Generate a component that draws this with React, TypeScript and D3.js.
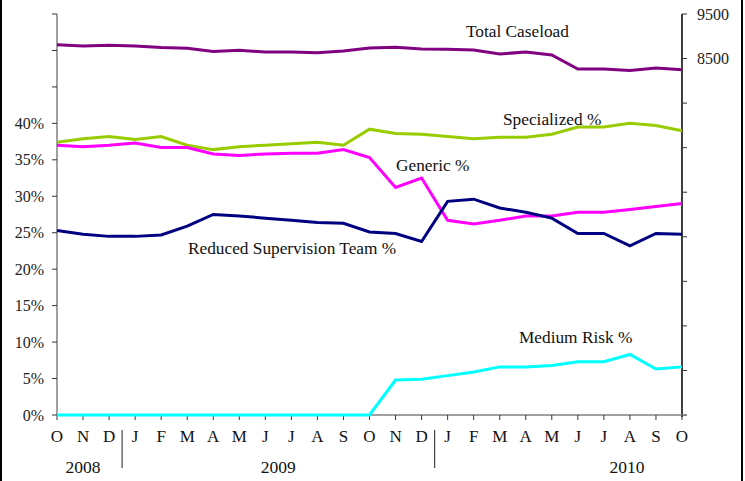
import React from 'react';
import * as d3 from 'd3';

const width = 745;
const height = 481;
const margin = {top: 14, right: 60, bottom: 66, left: 57};

const months = ['O', 'N', 'D', 'J', 'F', 'M', 'A', 'M', 'J', 'J', 'A', 'S', 'O', 'N', 'D',
    'J', 'F', 'M', 'A', 'M', 'J', 'J', 'A', 'S', 'O'];
const years = [{label: '2008', from: 0, to: 2}, {label: '2009', from: 3, to: 14}, {label: '2010', from: 15, to: 24}];

const totalCaseload = [8811, 8782, 8798, 8782, 8748, 8730, 8658, 8685, 8647, 8647, 8632, 8670, 8737,
    8753, 8715, 8708, 8692, 8602, 8647, 8580, 8266, 8266, 8232, 8288, 8250];
const specialized = [37.4, 37.9, 38.2, 37.8, 38.2, 37.0, 36.4, 36.8, 37.0, 37.2, 37.4, 37.0, 39.2,
    38.6, 38.5, 38.2, 37.9, 38.1, 38.1, 38.5, 39.5, 39.5, 40.0, 39.7, 39.0];
const generic = [37.0, 36.8, 37.0, 37.3, 36.7, 36.7, 35.8, 35.6, 35.8, 35.9, 35.9, 36.4, 35.3,
    31.2, 32.5, 26.7, 26.2, 26.7, 27.3, 27.3, 27.8, 27.8, 28.2, 28.6, 29.0];
const reduced = [25.3, 24.8, 24.5, 24.5, 24.7, 25.9, 27.5, 27.3, 27.0, 26.7, 26.4, 26.3, 25.1,
    24.9, 23.8, 29.3, 29.6, 28.4, 27.8, 27.0, 24.9, 24.9, 23.2, 24.9, 24.8];
const mediumRisk = [0, 0, 0, 0, 0, 0, 0, 0, 0, 0, 0, 0, 0,
    4.8, 4.9, 5.4, 5.9, 6.6, 6.6, 6.8, 7.3, 7.3, 8.3, 6.3, 6.6];

const pctTicks = [0, 5, 10, 15, 20, 25, 30, 35, 40, 45, 50, 55];
const pctLabels = [0, 5, 10, 15, 20, 25, 30, 35, 40];
const countTicks = [500, 1500, 2500, 3500, 4500, 5500, 6500, 7500, 8500, 9500];
const countLabels = [8500, 9500];

const font = '"Liberation Serif", "Times New Roman", serif';

export default function App() {
    const x = d3.scaleLinear().domain([0, months.length - 1]).range([margin.left, width - margin.right - 3]);
    const yPct = d3.scaleLinear().domain([0, 55]).range([height - margin.bottom, margin.top]);
    const yCount = d3.scaleLinear().domain([500, 9500]).range([height - margin.bottom, margin.top]);

    const pctLine = d3.line<number>().x((d, i) => x(i)).y(d => yPct(d));
    const countLine = d3.line<number>().x((d, i) => x(i)).y(d => yCount(d));

    const x0 = x(0);
    const x1 = x(months.length - 1);
    const yBase = yPct(0);

    const series = [
        {data: specialized, color: '#99cc00'},
        {data: generic, color: '#ff00ff'},
        {data: reduced, color: '#000080'},
        {data: mediumRisk, color: '#00ffff'},
    ];

    return (
        <div style={{position: 'absolute', left: 0, top: 0}}>
            <svg width={width} height={height} style={{display: 'block', fontFamily: font}}>
                <rect x={0} y={0} width={width} height={height} fill='#fff'/>
                <line x1={1} x2={1} y1={0} y2={height} stroke='#000' strokeWidth={2}/>
                <line x1={742} x2={742} y1={0} y2={height} stroke='#000' strokeWidth={2}/>

                {/* left axis */}
                <line x1={x0} x2={x0} y1={yPct(55)} y2={yBase} stroke='#808080' strokeWidth={1.5}/>
                {pctTicks.map(t => (
                    <line key={t} x1={x0 - 5} x2={x0} y1={yPct(t)} y2={yPct(t)} stroke='#333' strokeWidth={1}/>
                ))}
                {pctLabels.map(t => (
                    <text key={t} x={44} y={yPct(t)} dy='0.35em' textAnchor='end' fontSize={16} fill='#222'>{t}%</text>
                ))}

                {/* right axis */}
                <line x1={x1} x2={x1} y1={yCount(9500)} y2={yBase + 2} stroke='#000' strokeWidth={1.5}/>
                {countTicks.map(t => (
                    <line key={t} x1={x1} x2={x1 + 5} y1={yCount(t)} y2={yCount(t)} stroke='#333' strokeWidth={1}/>
                ))}
                {countLabels.map(t => (
                    <text key={t} x={697} y={yCount(t)} dy='0.35em' fontSize={16} fill='#222'>{t}</text>
                ))}

                {/* x axis */}
                <line x1={x0} x2={x1 + 5} y1={yBase} y2={yBase} stroke='#808080' strokeWidth={1.5}/>
                {months.map((m, i) => (
                    <g key={i}>
                        <line x1={x(i)} x2={x(i)} y1={yBase} y2={yBase + 5} stroke='#333' strokeWidth={1}/>
                        <text x={x(i)} y={442} textAnchor='middle' fontSize={17} fill='#111'>{m}</text>
                    </g>
                ))}
                {years.map(yr => (
                    <text key={yr.label} x={yr.label === '2010' ? 627 : (x(yr.from) + x(yr.to)) / 2} y={473}
                          textAnchor='middle' fontSize={17.5} fill='#111'>{yr.label}</text>
                ))}
                {[2.5, 14.5].map(p => (
                    <line key={p} x1={x(p)} x2={x(p)} y1={430} y2={468} stroke='#444' strokeWidth={1.2}/>
                ))}

                {/* series */}
                <path d={countLine(totalCaseload) || ''} fill='none' stroke='#800080' strokeWidth={3}/>
                {series.map((s, i) => (
                    <path key={i} d={pctLine(s.data) || ''} fill='none' stroke={s.color} strokeWidth={3}/>
                ))}

                <text x={466} y={37} fontSize={17.3} fill='#111'>Total Caseload</text>
                <text x={503} y={125} fontSize={17.3} fill='#111'>Specialized %</text>
                <text x={396} y={171} fontSize={17.3} fill='#111'>Generic %</text>
                <text x={188} y={254} fontSize={17.3} fill='#111'>Reduced Supervision Team %</text>
                <text x={519} y={343} fontSize={17.3} fill='#111'>Medium Risk %</text>
            </svg>
        </div>
    );
}
